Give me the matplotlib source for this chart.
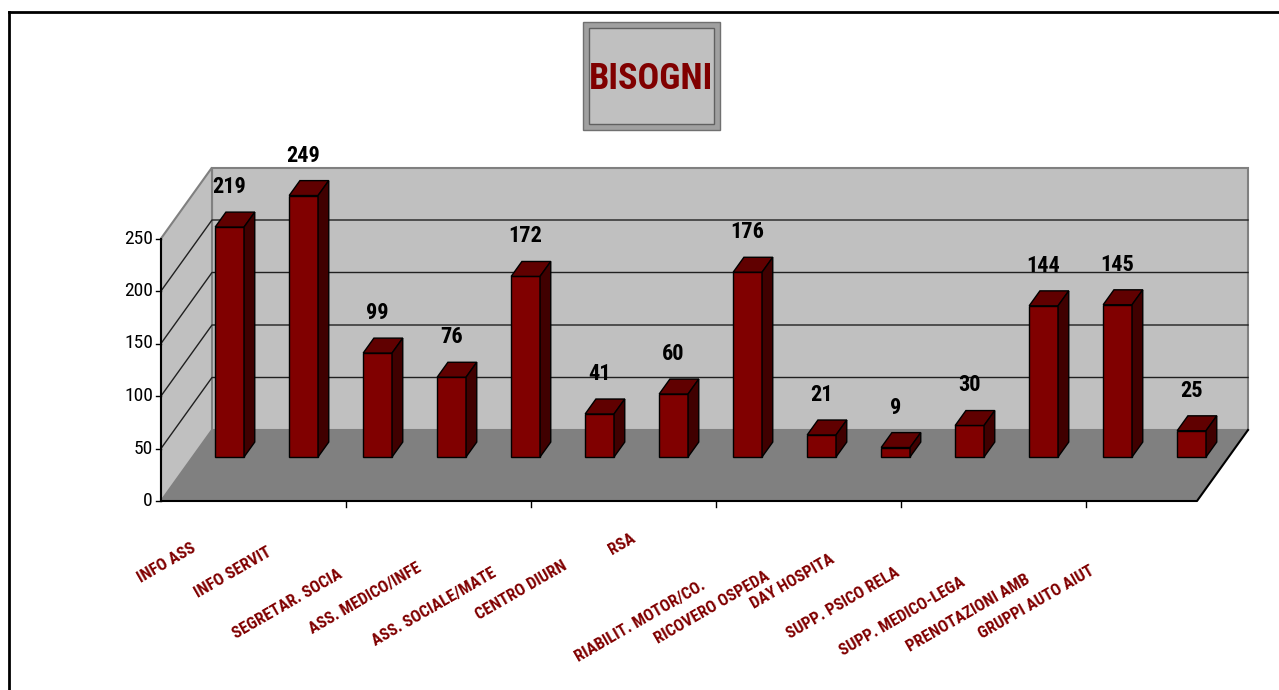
import matplotlib.pyplot as plt
from matplotlib.patches import Polygon, Rectangle

# dati
categorie = ["INFO ASS", "INFO SERVIT", "SEGRETAR. SOCIA", "ASS. MEDICO/INFE",
             "ASS. SOCIALE/MATE", "CENTRO DIURN", "RSA", "RIABILIT. MOTOR/CO.",
             "RICOVERO OSPEDA", "DAY HOSPITA", "SUPP. PSICO RELA",
             "SUPP. MEDICO-LEGA", "PRENOTAZIONI AMB", "GRUPPI AUTO AIUT"]
valori = [219, 249, 99, 76, 172, 41, 60, 176, 21, 9, 30, 144, 145, 25]
tick_y = [0, 50, 100, 150, 200, 250]

# posizione (pixel) del centro delle etichette sull'asse x, come nel grafico originale
pos_etichette = [(167, 563), (233, 573), (287, 604), (365, 599), (434, 607),
                 (521, 590), (622, 544), (640, 621), (712, 608), (792, 582),
                 (843, 603), (902, 617), (968, 613), (1036, 602)]

W, H = 1279, 690
rosso = "#800000"
fnt = ["Roboto Condensed", "Liberation Sans", "DejaVu Sans"]

fig = plt.figure(figsize=(W / 100, H / 100), dpi=100)
fig.patch.set_facecolor("white")

# scala: 1 categoria = 74 px, 1 unita = 1.05 px, origine nel pixel (161, 501)
x0, y0, cw, vs = 161, 501, 74.0, 1.05
ax = fig.add_axes([0, 0, 1, 1])
ax.set_xlim(-x0 / cw, (W - x0) / cw)
ax.set_ylim((y0 - H) / vs, y0 / vs)
ax.axis("off")

DX = 51 / cw      # profondita in x
DY = 71 / vs      # profondita in y
n = len(valori)
ymax = 250


def proj(c, v, d):
    return (c + d * DX, v + d * DY)


# pareti e pavimento
parete_fondo = [proj(0, 0, 1), proj(n, 0, 1), proj(n, ymax, 1), proj(0, ymax, 1)]
parete_sx = [proj(0, 0, 0), proj(0, 0, 1), proj(0, ymax, 1), proj(0, ymax, 0)]
pavimento = [proj(0, 0, 0), proj(n, 0, 0), proj(n, 0, 1), proj(0, 0, 1)]
ax.add_patch(Polygon(parete_fondo, closed=True, facecolor="#C0C0C0", edgecolor="#808080", lw=1.5, zorder=1))
ax.add_patch(Polygon(parete_sx, closed=True, facecolor="#C0C0C0", edgecolor="#808080", lw=1.5, zorder=1))
ax.add_patch(Polygon(pavimento, closed=True, facecolor="#808080", edgecolor="none", zorder=1))

# griglia
for v in tick_y[1:-1]:
    a, b, c = proj(0, v, 0), proj(0, v, 1), proj(n, v, 1)
    ax.plot([a[0], b[0], c[0]], [a[1], b[1], c[1]], color="#202020", lw=1, zorder=2)

# bordi del pavimento e asse verticale
a, b, c = proj(0, 0, 0), proj(n, 0, 0), proj(n, 0, 1)
ax.plot([a[0], b[0], c[0]], [a[1], b[1], c[1]], color="black", lw=1.5, zorder=3)
ax.plot([0, 0], [0, ymax], color="black", lw=1.5, zorder=3)
for v in tick_y:
    ax.plot([-5 / cw, 0], [v, v], color="black", lw=1, zorder=3)
    ax.text(-8 / cw, v, str(v), ha="right", va="center", fontsize=14,
            family=fnt, color="black")
for t in [2.5, 5, 7.5, 10, 12.5]:
    ax.plot([t, t], [-6 / vs, 0], color="black", lw=1, zorder=3)

# barre
d0, dd, larg = 0.62, 0.21, 0.39
xs = [i + 0.5 + d0 * DX for i in range(n)]
base = d0 * DY
ax.bar(xs, valori, width=larg, bottom=base, color=rosso, edgecolor="black", lw=1, zorder=5)
for x, v in zip(xs, valori):
    l, r = x - larg / 2, x + larg / 2
    t = base + v
    ox, oy = dd * DX, dd * DY
    ax.add_patch(Polygon([(l, t), (r, t), (r + ox, t + oy), (l + ox, t + oy)], closed=True,
                         facecolor="#600000", edgecolor="black", lw=1, zorder=5))
    ax.add_patch(Polygon([(r, base), (r, t), (r + ox, t + oy), (r + ox, base + oy)], closed=True,
                         facecolor="#400000", edgecolor="black", lw=1, zorder=5))
    ax.text(x, t + 40 / vs, str(v), ha="center", va="center", fontsize=16,
            fontweight="bold", family=fnt, color="black", zorder=6)

# etichette delle categorie
for testo, (px, py) in zip(categorie, pos_etichette):
    fig.text(px / W, 1 - py / H, testo, ha="center", va="center", rotation=30,
             rotation_mode="anchor", fontsize=12, fontweight="bold", family=fnt, color=rosso)

# riquadro del titolo
fig.add_artist(Rectangle((583 / W, 1 - 130 / H), 137 / W, 108 / H, transform=fig.transFigure,
                         facecolor="#A0A0A0", edgecolor="#707070", lw=1))
fig.add_artist(Rectangle((589 / W, 1 - 124 / H), 125 / W, 96 / H, transform=fig.transFigure,
                         facecolor="#C0C0C0", edgecolor="#606060", lw=1))
fig.text(651 / W, 1 - 79 / H, "BISOGNI", ha="center", va="center", fontsize=26,
         fontweight="bold", family=fnt, color=rosso)

# cornice esterna
fig.add_artist(plt.Line2D([9 / W, 9 / W], [0, 1 - 12 / H], transform=fig.transFigure, color="black", lw=2))
fig.add_artist(plt.Line2D([9 / W, 1], [1 - 12 / H, 1 - 12 / H], transform=fig.transFigure, color="black", lw=2))

fig.savefig("out.png", dpi=100)
